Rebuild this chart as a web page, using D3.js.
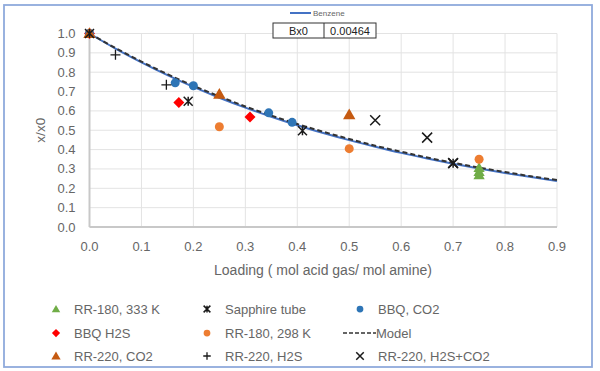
<!DOCTYPE html>
<html>
<head>
<meta charset="utf-8">
<script src="https://cdn.jsdelivr.net/npm/d3@7"></script>
<style>
  body { margin: 0; background: #fff; }
  text { font-family: "Liberation Sans", "DejaVu Sans", sans-serif; }
</style>
</head>
<body>
<svg id="chart" width="600" height="371"></svg>
<script>
// values
let xTicks = [0, 0.1, 0.2, 0.3, 0.4, 0.5, 0.6, 0.7, 0.8, 0.9]
let yTicks = [0, 0.1, 0.2, 0.3, 0.4, 0.5, 0.6, 0.7, 0.8, 0.9, 1.0]

let curveLoading = [0, 0.05, 0.1, 0.15, 0.2, 0.25, 0.3, 0.35, 0.4, 0.45, 0.5, 0.55, 0.6, 0.65, 0.7, 0.75, 0.8, 0.85, 0.9]
let modelValues = [1.0, 0.925, 0.855, 0.79, 0.73, 0.675, 0.623, 0.576, 0.532, 0.492, 0.455, 0.42, 0.389, 0.359, 0.332, 0.307, 0.284, 0.262, 0.243]
let benzeneValues = [1.0, 0.922, 0.851, 0.785, 0.724, 0.668, 0.617, 0.57, 0.526, 0.486, 0.449, 0.415, 0.383, 0.354, 0.327, 0.302, 0.279, 0.258, 0.238]

let rr180_333 = [[0, 1.0], [0.75, 0.305], [0.75, 0.285], [0.75, 0.268]]
let sapphire = [[0, 1.0], [0.19, 0.65], [0.41, 0.497], [0.7, 0.33]]
let bbqCO2 = [[0, 1.0], [0.165, 0.745], [0.2, 0.73], [0.345, 0.59], [0.39, 0.541]]
let bbqH2S = [[0, 1.0], [0.172, 0.643], [0.309, 0.568]]
let rr180_298 = [[0, 1.0], [0.25, 0.518], [0.5, 0.405], [0.75, 0.35]]
let rr220CO2 = [[0, 1.0], [0.25, 0.685], [0.5, 0.58]]
let rr220H2S = [[0.05, 0.89], [0.148, 0.735]]
let rr220Mix = [[0.55, 0.552], [0.65, 0.462], [0.7, 0.33]]

let bx0Label = "Bx0", bx0Value = "0.00464"

let margins = {left: 89.5, right: 43, top: 33.5, bottom: 144}
let width = 600, height = 371

let svg = d3.select("#chart")

// outer border
svg.append("rect")
  .attr("x", 4).attr("y", 5).attr("width", 588).attr("height", 362)
  .attr("fill", "none").attr("stroke", "#8faadc").attr("stroke-width", 1.8)

let x = d3.scaleLinear().domain([0, 0.9]).range([margins.left, width - margins.right])
let y = d3.scaleLinear().domain([0, 1.0]).range([height - margins.bottom, margins.top])

// grid
let grid = svg.append("g")
grid.selectAll("line.h").data(yTicks).enter().append("line")
  .attr("x1", x(0)).attr("x2", x(0.9))
  .attr("y1", d => y(d)).attr("y2", d => y(d))
  .attr("stroke", "#e3e3e3").attr("stroke-width", 1)
grid.selectAll("line.v").data(xTicks).enter().append("line")
  .attr("y1", y(0)).attr("y2", y(1))
  .attr("x1", d => x(d)).attr("x2", d => x(d))
  .attr("stroke", "#e3e3e3").attr("stroke-width", 1)

// axis lines
svg.append("line").attr("x1", x(0)).attr("x2", x(0)).attr("y1", y(0)).attr("y2", y(1))
  .attr("stroke", "#c8c8c8").attr("stroke-width", 2)
svg.append("line").attr("x1", x(0)).attr("x2", x(0.9)).attr("y1", y(0)).attr("y2", y(0))
  .attr("stroke", "#c8c8c8").attr("stroke-width", 2)

// tick labels
svg.append("g").selectAll("text").data(yTicks).enter().append("text")
  .attr("x", x(0) - 14).attr("y", d => y(d) + 4.5)
  .attr("text-anchor", "end").attr("font-size", 13).attr("fill", "#666")
  .text(d => d3.format(".1f")(d))
svg.append("g").selectAll("text").data(xTicks).enter().append("text")
  .attr("x", d => x(d)).attr("y", y(0) + 24)
  .attr("text-anchor", "middle").attr("font-size", 13).attr("fill", "#666")
  .text(d => d3.format(".1f")(d))

// axis titles
svg.append("text").attr("transform", `translate(45, ${y(0.5)}) rotate(-90)`)
  .attr("text-anchor", "middle").attr("font-size", 13.5).attr("fill", "#666").text("x/x0")
svg.append("text").attr("x", 323).attr("y", 275)
  .attr("text-anchor", "middle").attr("font-size", 14).attr("fill", "#666")
  .text("Loading ( mol acid gas/ mol amine)")

// curves
let line = vals => d3.line().x((d, i) => x(curveLoading[i])).y(d => y(d)).curve(d3.curveMonotoneX)(vals)
svg.append("path").attr("d", line(benzeneValues))
  .attr("fill", "none").attr("stroke", "#4472c4").attr("stroke-width", 2)
svg.append("path").attr("d", line(modelValues))
  .attr("fill", "none").attr("stroke", "#333").attr("stroke-width", 2).attr("stroke-dasharray", "5,3")

// markers
function marker(g, type, color, cx, cy, s) {
  let h = s / 2
  if (type == "tri") {
    g.append("path").attr("d", d3.symbol(d3.symbolTriangle, s * s * 0.55)())
      .attr("transform", `translate(${cx},${cy + 0.8})`).attr("fill", color)
  } else if (type == "circle") {
    g.append("circle").attr("cx", cx).attr("cy", cy).attr("r", h).attr("fill", color)
  } else if (type == "diamond") {
    g.append("path").attr("d", `M${cx},${cy - h}L${cx + h},${cy}L${cx},${cy + h}L${cx - h},${cy}Z`)
      .attr("fill", color)
  } else if (type == "plus") {
    g.append("path").attr("d", `M${cx - h},${cy}H${cx + h}M${cx},${cy - h}V${cy + h}`)
      .attr("stroke", color).attr("stroke-width", 1.3)
  } else if (type == "x") {
    g.append("path").attr("d", `M${cx - h},${cy - h}L${cx + h},${cy + h}M${cx - h},${cy + h}L${cx + h},${cy - h}`)
      .attr("stroke", color).attr("stroke-width", 1.5)
  } else if (type == "star") {
    g.append("path").attr("d", `M${cx - h},${cy - h}L${cx + h},${cy + h}M${cx - h},${cy + h}L${cx + h},${cy - h}M${cx},${cy - h}V${cy + h}`)
      .attr("stroke", color).attr("stroke-width", 1.5)
  }
}

let series = [
  {name: "RR-180, 333 K", data: rr180_333, type: "tri", color: "#70ad47", size: 10},
  {name: "Sapphire tube", data: sapphire, type: "star", color: "#1a1a1a", size: 9},
  {name: "BBQ, CO2", data: bbqCO2, type: "circle", color: "#2e75b6", size: 9},
  {name: "BBQ H2S", data: bbqH2S, type: "diamond", color: "#ff0000", size: 11},
  {name: "RR-180, 298 K", data: rr180_298, type: "circle", color: "#ed7d31", size: 9},
  {name: "Model", type: "dash"},
  {name: "RR-220, CO2", data: rr220CO2, type: "tri", color: "#c55a11", size: 11},
  {name: "RR-220, H2S", data: rr220H2S, type: "plus", color: "#1a1a1a", size: 10},
  {name: "RR-220, H2S+CO2", data: rr220Mix, type: "x", color: "#1a1a1a", size: 10}
]

let pts = svg.append("g")
let drawOrder = [0, 4, 3, 2, 6, 7, 8, 1]
drawOrder.forEach(i => {
  let s = series[i]
  s.data.forEach(d => marker(pts, s.type, s.color, x(d[0]), y(d[1]), s.size))
})

// legend
let colX = [56, 207, 360], rowY = [309, 333, 356]
let leg = svg.append("g")
series.forEach((s, i) => {
  let cx = colX[i % 3], cy = rowY[Math.floor(i / 3)]
  if (s.type == "dash") {
    leg.append("line").attr("x1", cx - 17).attr("x2", cx + 16).attr("y1", cy).attr("y2", cy)
      .attr("stroke", "#333").attr("stroke-width", 1.5).attr("stroke-dasharray", "4,2")
    leg.append("text").attr("x", cx + 16).attr("y", cy + 4.5)
      .attr("font-size", 13).attr("fill", "#666").text(s.name)
  } else {
    marker(leg, s.type, s.color, cx, cy, s.size * 0.75)
    leg.append("text").attr("x", cx + 18).attr("y", cy + 4.5)
      .attr("font-size", 13).attr("fill", "#666").text(s.name)
  }
})

// benzene legend at top
svg.append("line").attr("x1", 290).attr("x2", 311).attr("y1", 13).attr("y2", 13)
  .attr("stroke", "#4472c4").attr("stroke-width", 2)
svg.append("text").attr("x", 313).attr("y", 16).attr("font-size", 8).attr("fill", "#666").text("Benzene")

// Bx0 box
svg.append("rect").attr("x", 273).attr("y", 23).attr("width", 103).attr("height", 15)
  .attr("fill", "#fff").attr("stroke", "#333").attr("stroke-width", 1)
svg.append("line").attr("x1", 324).attr("x2", 324).attr("y1", 23).attr("y2", 38)
  .attr("stroke", "#333").attr("stroke-width", 1)
svg.append("text").attr("x", 298.5).attr("y", 34.5).attr("text-anchor", "middle")
  .attr("font-size", 11).attr("fill", "#222").text(bx0Label)
svg.append("text").attr("x", 350).attr("y", 34.5).attr("text-anchor", "middle")
  .attr("font-size", 11).attr("fill", "#222").text(bx0Value)
</script>
</body>
</html>
